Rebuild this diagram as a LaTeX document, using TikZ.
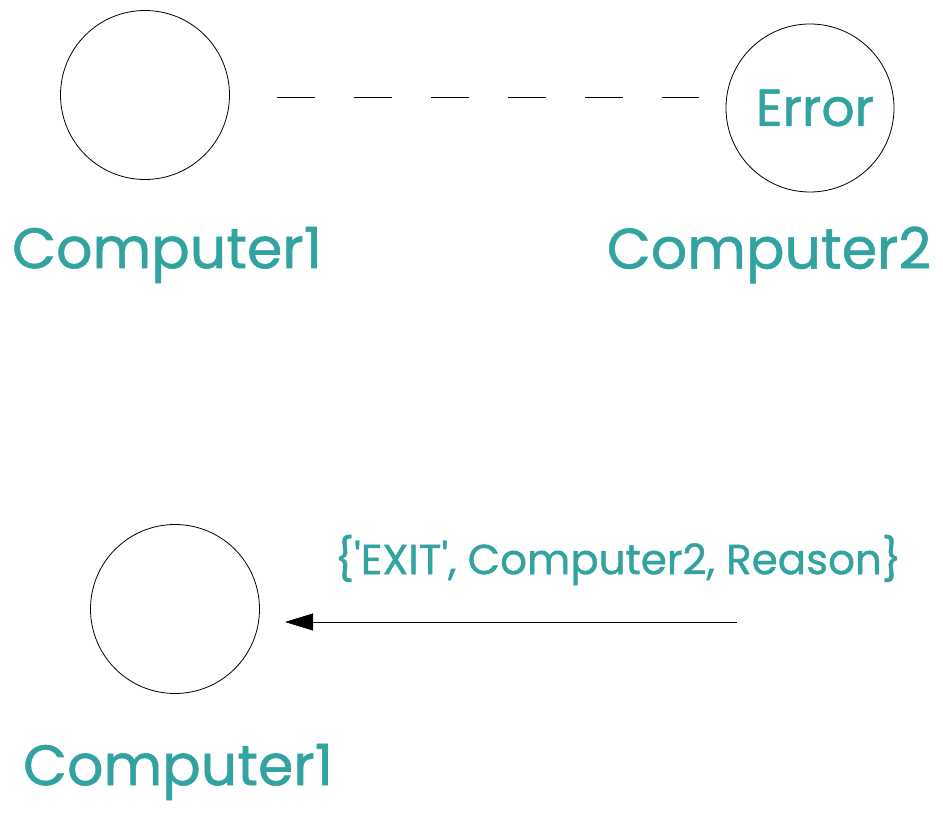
\documentclass[tikz,border=0pt]{standalone}
\usepackage{fontspec}
\setmainfont{Poppins}
\newfontfamily\comicfont[FakeBold=1]{Poppins}
\usetikzlibrary{arrows.meta,positioning}
\definecolor{tealtxt}{HTML}{33A3A0}
\tikzset{
	comp/.style={draw,circle,minimum size=169pt,inner sep=0pt,line width=.8pt},
	bigname/.style={text=tealtxt,font=\comicfont\fontsize{57}{64}\selectfont,inner sep=0pt},
	msg/.style={text=tealtxt,font=\comicfont\fontsize{42}{48}\selectfont,inner sep=0pt}
}
\begin{document}
\begin{tikzpicture}[x=1pt,y=-1pt,>={Triangle[length=28pt,width=17pt]}, line join=round]
	\useasboundingbox (0,0) rectangle (943,818);
	% top: link between the two machines
	\node[comp] (c1) at (145,95) {};
	\node[comp,minimum size=168pt] (c2) at (810,108) {};
	\node[msg,font=\comicfont\fontsize{52}{58}\selectfont] (err) at (815,108) {Error};
	\node[bigname] (n1) at (167,255) {Computer1};
	\node[bigname] (n2) at (769,255) {Computer2};
	\coordinate (d1) at (277,97);
	\coordinate (d2) at (699,97);
	\draw[line width=.8pt,dash pattern=on 38pt off 39pt] (d1)--(d2);
	% bottom: exit signal
	\node[comp] (c3) at (175,609) {};
	\node[bigname] (n3) at (178,772) {Computer1};
	\coordinate (a1) at (737,622);
	\coordinate (a2) at (285,622);
	\draw[->,line width=.8pt] (a1)--(a2);
	\node[msg] (sig) at (618,560) {\{\textquotesingle EXIT\textquotesingle, Computer2, Reason\}};
\end{tikzpicture}
\end{document}
